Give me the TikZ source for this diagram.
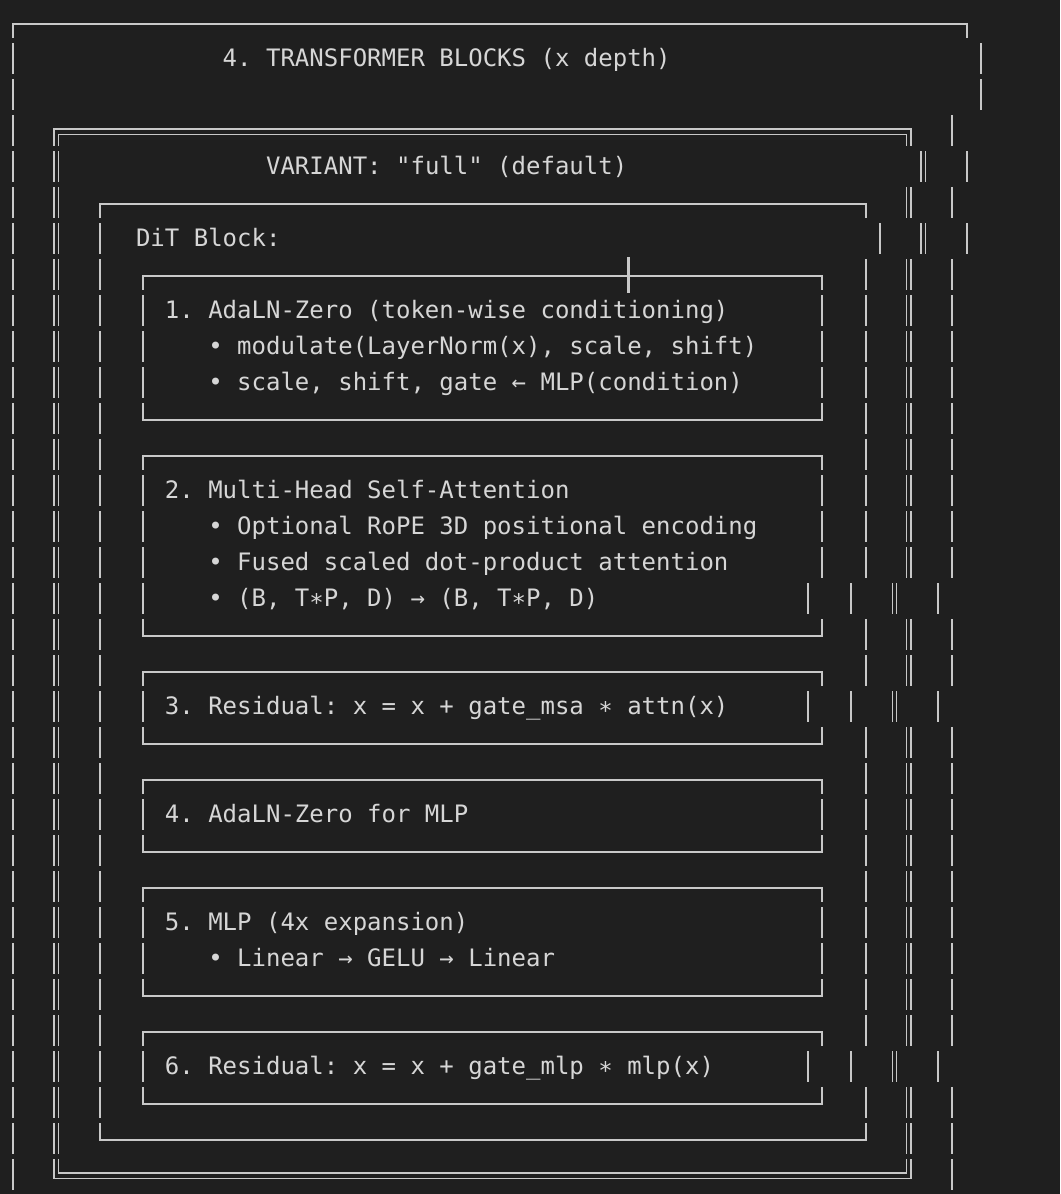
\documentclass[tikz,border=0pt]{standalone}
\usepackage{fontspec}
\setmonofont{DejaVu Sans Mono}
\usepackage{tikz}
\usetikzlibrary{calc}
\definecolor{fond}{RGB}{31,31,31}
\definecolor{gristrait}{RGB}{200,200,200}
\definecolor{gristexte}{RGB}{214,214,214}
\tikzset{
	trait/.style={draw=gristrait,line width=2pt},
	traitd/.style={draw=gristrait,line width=1.5pt},
	txt/.style={text=gristexte,inner sep=0pt,anchor=base west,
		font=\ttfamily\fontsize{24}{24}\selectfont\frenchspacing}
}
\newcommand{\hs}{0.43}% demi segment (lignes)
\newcommand{\hy}{0.04}% decalage des traits horizontaux
\newcommand{\dx}{0.152}% ecart double trait (colonnes)
\newcommand{\dy}{0.075}% ecart double trait (lignes)
\newcommand{\bl}{0.236}% ligne de base du texte
\newcommand{\vbar}[2]{\draw[trait] (#1,#2-\hs) -- (#1,#2+\hs);}
\newcommand{\vdbl}[2]{\draw[traitd] (#1-\dx,#2-\hs) -- (#1-\dx,#2+\hs) (#1+\dx,#2-\hs) -- (#1+\dx,#2+\hs);}
\newcommand{\boxtop}[3]{\draw[trait] (#1,#3+\hs) -- (#1,#3+\hy) -- (#2,#3+\hy) -- (#2,#3+\hs);}
\newcommand{\boxbot}[3]{\draw[trait] (#1,#3-\hs) -- (#1,#3+\hy) -- (#2,#3+\hy) -- (#2,#3-\hs);}

\begin{document}
\begin{tikzpicture}[x=14.45pt,y=-36pt]
	
	\def\largeur{72.457}
	\def\hauteur{32.542}
	\fill[fond] (-0.9,-0.625) rectangle (\largeur,\hauteur);
	\useasboundingbox (-0.9,-0.625) rectangle (\largeur,\hauteur);
	
	%Cadre exterieur
	\boxtop{0}{66}{0}
	\foreach \k in {1,...,32} \vbar{0}{\k};
	\foreach \k/\a in {1/67,2/67,4/66,6/66,16/64,19/64,29/64} \vbar{\a}{\k};
	\foreach \k in {3,5,7,8,...,15,17,18,20,21,...,28,30,31,32} \vbar{65}{\k};
	
	%Cadre double (variante)
	\draw[traitd] (3-\dx,3+\hs) -- (3-\dx,3+\hy-\dy) -- (62+\dx,3+\hy-\dy) -- (62+\dx,3+\hs);
	\draw[traitd] (3+\dx,3+\hs) -- (3+\dx,3+\hy+\dy) -- (62-\dx,3+\hy+\dy) -- (62-\dx,3+\hs);
	\draw[traitd] (3-\dx,32-\hs) -- (3-\dx,32+\hy+\dy) -- (62+\dx,32+\hy+\dy) -- (62+\dx,32-\hs);
	\draw[traitd] (3+\dx,32-\hs) -- (3+\dx,32+\hy-\dy) -- (62-\dx,32+\hy-\dy) -- (62-\dx,32-\hs);
	\foreach \k in {4,...,31} \vdbl{3}{\k};
	\foreach \k/\a in {4/63,6/63,16/61,19/61,29/61} \vdbl{\a}{\k};
	\foreach \k in {5,7,8,...,15,17,18,20,21,...,28,30,31} \vdbl{62}{\k};
	
	%Cadre DiT
	\boxtop{6}{59}{5}
	\boxbot{6}{59}{31}
	\foreach \k in {6,...,30} \vbar{6}{\k};
	\foreach \k/\a in {6/60,16/58,19/58,29/58} \vbar{\a}{\k};
	\foreach \k in {7,8,...,15,17,18,20,21,...,28,30} \vbar{59}{\k};
	
	%Etapes
	\foreach \t/\b in {7/11,12/17,18/20,21/23,24/27,28/30} {
		\boxtop{9}{56}{\t}
		\boxbot{9}{56}{\b}
	}
	\foreach \k in {8,9,10,13,14,15,16,19,22,25,26,29} \vbar{9}{\k};
	\foreach \k in {8,9,10,13,14,15,22,25,26} \vbar{56}{\k};
	\foreach \k in {16,19,29} \vbar{55}{\k};
	
	%Curseur
	\draw[draw=gristrait,line width=2.4pt] (42.6,6.51) -- (42.6,7.51);
	
	%Textes
	\node[txt] (titre) at (15-0.5,1+\bl) {4. TRANSFORMER BLOCKS (x depth)};
	\node[txt] (variante) at (18-0.5,4+\bl) {VARIANT: "full" (default)};
	\node[txt] (dit) at (9-0.5,6+\bl) {DiT Block:};
	
	\node[txt] (e1) at (11-0.5,8+\bl) {1. AdaLN-Zero (token-wise conditioning)};
	\node[txt] (e1a) at (14-0.5,9+\bl) {• modulate(LayerNorm(x), scale, shift)};
	\node[txt] (e1b) at (14-0.5,10+\bl) {• scale, shift, gate ← MLP(condition)};
	
	\node[txt] (e2) at (11-0.5,13+\bl) {2. Multi-Head Self-Attention};
	\node[txt] (e2a) at (14-0.5,14+\bl) {• Optional RoPE 3D positional encoding};
	\node[txt] (e2b) at (14-0.5,15+\bl) {• Fused scaled dot-product attention};
	\node[txt] (e2c) at (14-0.5,16+\bl) {• (B, T∗P, D) → (B, T∗P, D)};
	
	\node[txt] (e3) at (11-0.5,19+\bl) {3. Residual: x = x + gate\_msa ∗ attn(x)};
	\node[txt] (e4) at (11-0.5,22+\bl) {4. AdaLN-Zero for MLP};
	\node[txt] (e5) at (11-0.5,25+\bl) {5. MLP (4x expansion)};
	\node[txt] (e5a) at (14-0.5,26+\bl) {• Linear → GELU → Linear};
	\node[txt] (e6) at (11-0.5,29+\bl) {6. Residual: x = x + gate\_mlp ∗ mlp(x)};
	
\end{tikzpicture}
\end{document}
